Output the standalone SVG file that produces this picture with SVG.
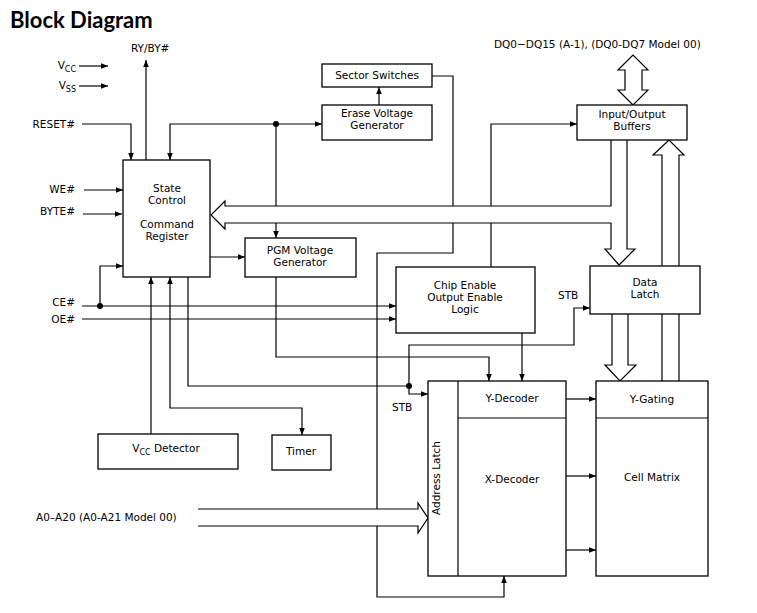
<svg xmlns="http://www.w3.org/2000/svg" width="757" height="613" viewBox="0 0 757 613">
<style>
.b{fill:#fff;stroke:#000;stroke-width:1.3}
.l{fill:none;stroke:#000;stroke-width:1.2}
.h{fill:#fff;stroke:#000;stroke-width:1.2}
text{font-family:"DejaVu Sans",sans-serif;font-size:10.5px;fill:#000}
.c{text-anchor:middle}
.r{text-anchor:end}
</style>
<defs>
<marker id="a" viewBox="0 0 10 10" refX="10" refY="5" markerWidth="9" markerHeight="7" orient="auto-start-reverse" markerUnits="userSpaceOnUse"><path d="M0,1 L10,5 L0,9 z" fill="#000"/></marker>
</defs>
<rect width="757" height="613" fill="#fff"/>
<text x="10" y="28" style="font-family:Lato,'Open Sans',sans-serif;font-size:22px;font-weight:bold">Block Diagram</text>

<g id="connectors">
<path class="l" d="M146,160 V60" marker-end="url(#a)"/>
<path class="l" d="M79,66 H108" marker-end="url(#a)"/>
<path class="l" d="M79,86 H108" marker-end="url(#a)"/>
<path class="l" d="M82,124 H131 V160" marker-end="url(#a)"/>
<path class="l" d="M170,160 V124 H322" marker-start="url(#a)" marker-end="url(#a)"/>
<path class="l" d="M276,124 V238" marker-end="url(#a)"/>
<circle cx="276" cy="124" r="3"/>
<path class="l" d="M84,190 H123" marker-end="url(#a)"/>
<path class="l" d="M83,214 H122" marker-end="url(#a)"/>
<path class="l" d="M210,257 H245" marker-end="url(#a)"/>
<path class="l" d="M379,105 V87" marker-end="url(#a)"/>
<path class="h" d="M611,140 V206 H225 V201 L211,215 L225,229 V223 H611 V249 H605 L619,265 L635,249 H627 V140"/>
<path class="l" d="M432,76 H453 V206 M453,223 V253 H377 V597 H504 V576" marker-end="url(#a)"/>
<path class="l" d="M491,267 V223 M491,206 V124 H577" marker-end="url(#a)"/>
<path class="l" d="M82,306 H396" marker-end="url(#a)"/>
<path class="l" d="M82,319 H396" marker-end="url(#a)"/>
<circle cx="100" cy="306" r="3"/>
<path class="l" d="M100,306 V266 H123" marker-end="url(#a)"/>
<path class="l" d="M151,434 V277" marker-end="url(#a)"/>
<path class="l" d="M302,435 V408 H170 V277" marker-start="url(#a)" marker-end="url(#a)"/>
<path class="l" d="M188,277 V386 H409"/>
<circle cx="409" cy="386" r="3"/>
<path class="l" d="M409,386 V394 H428" marker-end="url(#a)"/>
<path class="l" d="M409,386 V345 H574 V308 H590" marker-end="url(#a)"/>
<path class="l" d="M276,277 V357 H489 V381" marker-end="url(#a)"/>
<path class="l" d="M522,333 V381" marker-end="url(#a)"/>
<path class="l" d="M566,399 H596" marker-end="url(#a)"/>
<path class="l" d="M566,476 H596" marker-end="url(#a)"/>
<path class="l" d="M566,550 H596" marker-end="url(#a)"/>
<path class="h" d="M662,381 V155 H653 L669,140 L684,155 H679 V381"/>
<path class="h" d="M612,314 V365 H605 L620,381 L636,365 H628 V314"/>
<path class="h" d="M625,70 H618 L633,55 L648,70 H642 V90 H648 L633,105 L618,90 H625 Z"/>
<path class="h" d="M198,509 H418 V503 L428,518 L418,533 V526 H198"/>
</g>

<g id="sector"><rect class="b" x="322" y="64" width="110" height="23"/><text class="c" x="377" y="79">Sector Switches</text></g>
<g id="erase"><rect class="b" x="322" y="105" width="110" height="35"/><text class="c" x="377" y="117">Erase Voltage</text><text class="c" x="377" y="129">Generator</text></g>
<g id="state"><rect class="b" x="123" y="160" width="87" height="117"/><text class="c" x="167" y="192">State</text><text class="c" x="167" y="204">Control</text><text class="c" x="167" y="228">Command</text><text class="c" x="167" y="240">Register</text></g>
<g id="pgm"><rect class="b" x="245" y="238" width="111" height="39"/><text class="c" x="300" y="254">PGM Voltage</text><text class="c" x="300" y="266">Generator</text></g>
<g id="io"><rect class="b" x="577" y="105" width="110" height="35"/><text class="c" x="632" y="118">Input/Output</text><text class="c" x="632" y="130">Buffers</text></g>
<g id="ce"><rect class="b" x="396" y="267" width="139" height="66"/><text class="c" x="465" y="289">Chip Enable</text><text class="c" x="465" y="301">Output Enable</text><text class="c" x="465" y="313">Logic</text></g>
<g id="latch"><rect class="b" x="590" y="266" width="110" height="48"/><text class="c" x="645" y="286">Data</text><text class="c" x="645" y="298">Latch</text></g>
<g id="vcc"><rect class="b" x="98" y="434" width="140" height="35"/><text class="c" x="166" y="452">V<tspan font-size="8" dy="3">CC</tspan><tspan dy="-3"> Detector</tspan></text></g>
<g id="timer"><rect class="b" x="272" y="435" width="59" height="35"/><text class="c" x="301" y="455">Timer</text></g>
<g id="addr"><rect class="b" x="428" y="381" width="138" height="195"/><line class="l" x1="458" y1="381" x2="458" y2="576"/><line class="l" x1="458" y1="418" x2="566" y2="418"/><text class="c" transform="translate(440,478) rotate(-90)">Address Latch</text><text class="c" x="512" y="402">Y-Decoder</text><text class="c" x="512" y="483">X-Decoder</text></g>
<g id="matrix"><rect class="b" x="596" y="381" width="112" height="195"/><line class="l" x1="596" y1="418" x2="708" y2="418"/><text class="c" x="652" y="403">Y-Gating</text><text class="c" x="652" y="481">Cell Matrix</text></g>

<g id="labels">
<text x="131" y="52">RY/BY#</text>
<text class="r" x="76" y="69">V<tspan font-size="8" dy="3">CC</tspan></text>
<text class="r" x="76" y="89">V<tspan font-size="8" dy="3">SS</tspan></text>
<text class="r" x="75" y="128">RESET#</text>
<text class="r" x="75" y="193">WE#</text>
<text class="r" x="75" y="215">BYTE#</text>
<text class="r" x="75" y="306">CE#</text>
<text class="r" x="75" y="323">OE#</text>
<text x="494" y="48">DQ0−DQ15 (A-1), (DQ0-DQ7 Model 00)</text>
<text x="558" y="299">STB</text>
<text x="392" y="411">STB</text>
<text x="36" y="521">A0–A20 (A0-A21 Model 00)</text>
</g>
</svg>
